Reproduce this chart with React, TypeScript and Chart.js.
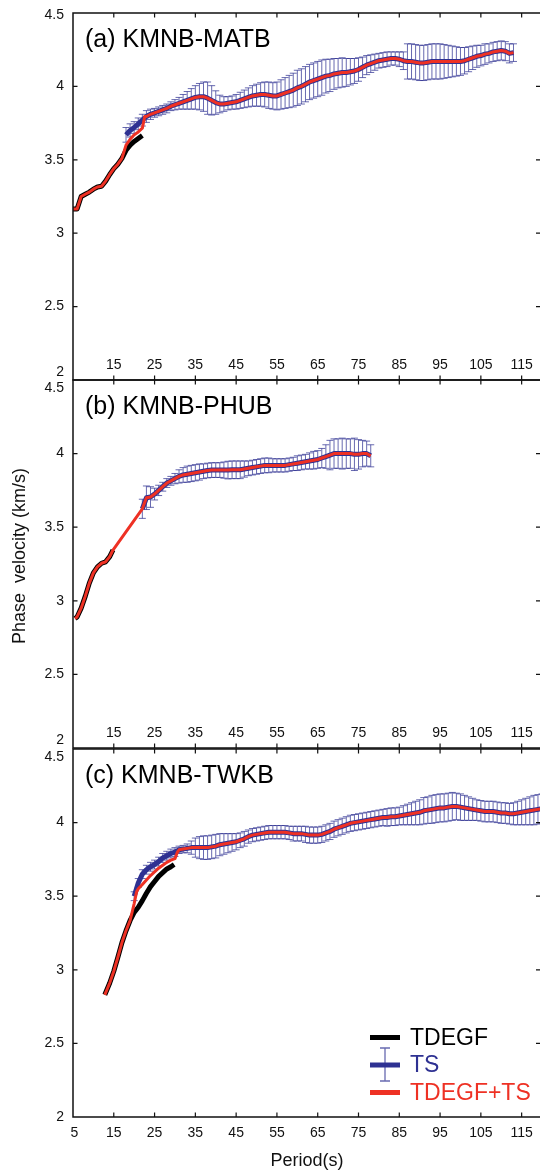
import React, { useEffect, useRef } from "react";
import { Chart, registerables } from "chart.js";
Chart.register(...registerables);

const W = 540;
const H = 1173;

// ---------- axes / labels ----------
const xTicks = [5, 15, 25, 35, 45, 55, 65, 75, 85, 95, 105, 115];
const yTicks = [2, 2.5, 3, 3.5, 4, 4.5];
const yTickLabels = ["2", "2.5", "3", "3.5", "4", "4.5"];
const panelTitles = ["(a) KMNB-MATB", "(b) KMNB-PHUB", "(c) KMNB-TWKB"];
const legendLabels = ["TDEGF", "TS", "TDEGF+TS"];
const xTitle = "Period(s)";
const yTitle = "Phase  velocity (km/s)";

// ---------- panel (a) KMNB-MATB ----------
const aTdegfT = [5, 6, 7, 8, 9, 10, 11, 12, 13, 14, 15, 16, 17, 18, 19, 20, 21, 22];
const aTdegfV = [3.165, 3.165, 3.25, 3.265, 3.28, 3.3, 3.315, 3.32, 3.355, 3.4, 3.44, 3.47, 3.51, 3.565, 3.6, 3.625, 3.645, 3.665];
const aMixT = [18, 19, 20, 21, 22, 22.6];
const aMixV = [3.6, 3.64, 3.67, 3.69, 3.715, 3.795];
const aTsStart = 18;
const aTsV = [
  3.67, 3.7, 3.72, 3.745, 3.77, 3.795, 3.81, 3.82, 3.83, 3.84, // 18-27
  3.85, 3.865, 3.875, 3.885, 3.895, 3.905, 3.915, 3.925, 3.93, 3.93, // 28-37
  3.92, 3.905, 3.89, 3.88, 3.88, 3.885, 3.89, 3.895, 3.905, 3.915, // 38-47
  3.925, 3.935, 3.94, 3.945, 3.945, 3.94, 3.935, 3.935, 3.945, 3.955, // 48-57
  3.965, 3.975, 3.99, 4.0, 4.015, 4.03, 4.04, 4.05, 4.06, 4.07, // 58-67
  4.075, 4.085, 4.09, 4.095, 4.095, 4.1, 4.105, 4.115, 4.13, 4.145, // 68-77
  4.155, 4.165, 4.175, 4.18, 4.185, 4.19, 4.19, 4.185, 4.175, 4.17, // 78-87
  4.17, 4.165, 4.16, 4.16, 4.165, 4.17, 4.17, 4.17, 4.17, 4.17, // 88-97
  4.17, 4.17, 4.17, 4.175, 4.185, 4.195, 4.205, 4.21, 4.22, 4.225, // 98-107
  4.235, 4.24, 4.245, 4.24, 4.225, 4.23, // 108-113
];
const aTsErr = [
  0.05, 0.045, 0.04, 0.04, 0.04, 0.04, 0.035, 0.03, 0.03, 0.03, // 18-27
  0.03, 0.03, 0.035, 0.04, 0.05, 0.06, 0.07, 0.08, 0.09, 0.1, // 28-37
  0.11, 0.1, 0.08, 0.06, 0.05, 0.045, 0.045, 0.05, 0.055, 0.06, // 38-47
  0.065, 0.07, 0.075, 0.08, 0.085, 0.09, 0.09, 0.095, 0.1, 0.105, // 48-57
  0.11, 0.115, 0.12, 0.12, 0.12, 0.12, 0.12, 0.12, 0.12, 0.115, // 58-67
  0.11, 0.105, 0.1, 0.1, 0.095, 0.09, 0.085, 0.08, 0.07, 0.065, // 68-77
  0.06, 0.055, 0.05, 0.05, 0.05, 0.045, 0.045, 0.05, 0.06, 0.12, // 78-87
  0.12, 0.12, 0.12, 0.12, 0.12, 0.12, 0.12, 0.12, 0.115, 0.11, // 88-97
  0.105, 0.1, 0.095, 0.09, 0.085, 0.08, 0.075, 0.07, 0.07, 0.065, // 98-107
  0.065, 0.065, 0.065, 0.065, 0.065, 0.06, // 108-113
];

// ---------- panel (b) KMNB-PHUB ----------
const bTdegfT = [5.5, 6, 7, 8, 9, 10, 11, 12, 13, 14, 14.8];
const bTdegfV = [2.88, 2.89, 2.95, 3.03, 3.12, 3.19, 3.23, 3.255, 3.265, 3.3, 3.345];
const bTsStart = 22;
const bTsV = [
  3.625, 3.7, 3.705, 3.725, 3.75, 3.775, 3.8, 3.815, 3.83, 3.845, // 22-31
  3.855, 3.86, 3.865, 3.87, 3.875, 3.88, 3.885, 3.888, 3.888, 3.888, // 32-41
  3.888, 3.888, 3.89, 3.89, 3.89, 3.895, 3.9, 3.905, 3.91, 3.915, // 42-51
  3.92, 3.92, 3.92, 3.92, 3.92, 3.92, 3.925, 3.93, 3.935, 3.94, // 52-61
  3.945, 3.95, 3.955, 3.96, 3.97, 3.98, 3.99, 4.0, 4.0, 4.0, // 62-71
  4.0, 4.0, 3.995, 3.995, 4.0, 4.0, 3.985, // 72-78
];
const bTsErr = [
  0.065, 0.08, 0.07, 0.04, 0.035, 0.03, 0.03, 0.03, 0.035, 0.045, // 22-31
  0.05, 0.055, 0.055, 0.055, 0.055, 0.05, 0.05, 0.05, 0.05, 0.05, // 32-41
  0.055, 0.06, 0.06, 0.06, 0.06, 0.055, 0.05, 0.05, 0.05, 0.05, // 42-51
  0.05, 0.05, 0.045, 0.045, 0.045, 0.045, 0.045, 0.045, 0.05, 0.05, // 52-61
  0.05, 0.055, 0.06, 0.06, 0.065, 0.08, 0.1, 0.1, 0.1, 0.105, // 62-71
  0.1, 0.1, 0.11, 0.1, 0.09, 0.085, 0.075, // 72-78
];

// ---------- panel (c) KMNB-TWKB ----------
const cTdegfT = [12.8, 14, 15, 16, 17, 18, 19, 20, 21, 22, 23, 24, 25, 26, 27, 28, 29, 29.8];
const cTdegfV = [2.83, 2.91, 2.99, 3.085, 3.185, 3.265, 3.335, 3.39, 3.425, 3.47, 3.52, 3.565, 3.6, 3.635, 3.66, 3.685, 3.7, 3.715];
const cMixT = [20, 20.6, 21, 22, 23, 24, 25, 26, 27, 28, 29, 30, 30.6];
const cMixV = [3.45, 3.53, 3.55, 3.58, 3.61, 3.64, 3.665, 3.69, 3.71, 3.73, 3.745, 3.755, 3.8];
const cTsStart = 20;
const cTsV = [
  3.5, 3.59, 3.65, 3.68, 3.7, 3.715, 3.735, 3.76, 3.775, 3.79, // 20-29
  3.8, 3.815, 3.82, 3.825, 3.83, 3.83, 3.83, 3.83, 3.83, 3.835, // 30-39
  3.84, 3.85, 3.855, 3.86, 3.865, 3.87, 3.88, 3.89, 3.905, 3.915, // 40-49
  3.92, 3.925, 3.93, 3.935, 3.935, 3.935, 3.935, 3.935, 3.93, 3.925, // 50-59
  3.925, 3.925, 3.92, 3.915, 3.915, 3.915, 3.92, 3.93, 3.94, 3.955, // 60-69
  3.965, 3.975, 3.985, 3.995, 4.0, 4.005, 4.01, 4.015, 4.02, 4.025, // 70-79
  4.03, 4.035, 4.035, 4.04, 4.04, 4.045, 4.05, 4.055, 4.06, 4.065, // 80-89
  4.07, 4.08, 4.085, 4.09, 4.095, 4.1, 4.1, 4.105, 4.11, 4.11, // 90-99
  4.105, 4.1, 4.095, 4.09, 4.085, 4.08, 4.075, 4.075, 4.075, 4.07, // 100-109
  4.065, 4.065, 4.06, 4.06, 4.065, 4.07, 4.075, 4.08, 4.085, 4.09, // 110-119
  4.095, // 120
];
const cTsErr = [
  0.03, 0.03, 0.03, 0.03, 0.03, 0.03, 0.03, 0.03, 0.03, 0.03, // 20-29
  0.03, 0.025, 0.025, 0.03, 0.045, 0.065, 0.075, 0.08, 0.08, 0.08, // 30-39
  0.08, 0.075, 0.07, 0.065, 0.06, 0.055, 0.05, 0.05, 0.045, 0.045, // 40-49
  0.045, 0.045, 0.045, 0.045, 0.045, 0.045, 0.045, 0.045, 0.045, 0.05, // 50-59
  0.05, 0.05, 0.055, 0.055, 0.055, 0.055, 0.055, 0.055, 0.055, 0.055, // 60-69
  0.055, 0.055, 0.055, 0.055, 0.055, 0.055, 0.055, 0.055, 0.055, 0.055, // 70-79
  0.055, 0.055, 0.06, 0.06, 0.06, 0.06, 0.065, 0.07, 0.075, 0.08, // 80-89
  0.085, 0.09, 0.09, 0.095, 0.095, 0.095, 0.095, 0.095, 0.095, 0.09, // 90-99
  0.09, 0.085, 0.08, 0.075, 0.07, 0.07, 0.07, 0.07, 0.07, 0.07, // 100-109
  0.07, 0.07, 0.07, 0.075, 0.08, 0.085, 0.09, 0.095, 0.1, 0.1, // 110-119
  0.1, // 120
];

// ---------- styling ----------
const FONT = '"Liberation Sans", Arial, Helvetica, sans-serif';
const RED = "#EE3124";
const BLUE = "#2E3192";
const BAR = "rgba(46,49,146,0.72)";
const X_MIN = 5;
const X_MAX = 119.5;

type Pt = { x: number; y: number };
const pts = (ts: number[], vs: number[]): Pt[] => ts.map((t, i) => ({ x: t, y: vs[i] }));
const seq = (start: number, vs: number[]): Pt[] => vs.map((v, i) => ({ x: start + i, y: v }));

interface Panel {
  key: string;
  top: number;
  bottom: number;
  title: string;
  tdegf: Pt[];
  ts: Pt[];
  err: number[];
  red: Pt[];
  xLabelsInside: boolean;
  shift2: number;
  shift45: number;
  legend: boolean;
  yTitle: boolean;
  xTitle: boolean;
}

const aTs = seq(aTsStart, aTsV);
const bTs = seq(bTsStart, bTsV);
const cTs = seq(cTsStart, cTsV);

const panels: Panel[] = [
  {
    key: "a", top: 13, bottom: 380, title: panelTitles[0],
    tdegf: pts(aTdegfT, aTdegfV), ts: aTs, err: aTsErr,
    red: [...pts(aTdegfT, aTdegfV).filter((p) => p.x <= 17), ...pts(aMixT, aMixV), ...aTs.filter((p) => p.x >= 23)],
    xLabelsInside: true, shift2: -7.5, shift45: 2, legend: false, yTitle: false, xTitle: false,
  },
  {
    key: "b", top: 380, bottom: 748, title: panelTitles[1],
    tdegf: pts(bTdegfT, bTdegfV), ts: bTs, err: bTsErr,
    red: [...pts(bTdegfT, bTdegfV), ...bTs],
    xLabelsInside: true, shift2: -7.5, shift45: 8.5, legend: false, yTitle: true, xTitle: false,
  },
  {
    key: "c", top: 749, bottom: 1117, title: panelTitles[2],
    tdegf: pts(cTdegfT, cTdegfV), ts: cTs, err: cTsErr,
    red: [...pts(cTdegfT, cTdegfV).filter((p) => p.x <= 19), ...pts(cMixT, cMixV), ...cTs.filter((p) => p.x >= 31)],
    xLabelsInside: false, shift2: 0, shift45: 8, legend: true, yTitle: false, xTitle: true,
  },
];

function makePlugin(p: Panel) {
  return {
    id: "decor_" + p.key,
    beforeDatasetsDraw(chart: any) {
      const { ctx, chartArea } = chart;
      const xs = chart.scales.x;
      const ys = chart.scales.y;
      ctx.save();
      ctx.beginPath();
      ctx.rect(chartArea.left, chartArea.top, chartArea.right - chartArea.left, chartArea.bottom - chartArea.top);
      ctx.clip();
      ctx.strokeStyle = BAR;
      ctx.lineWidth = 1;
      p.ts.forEach((pt, i) => {
        const e = p.err[i];
        const x = xs.getPixelForValue(pt.x);
        const y1 = ys.getPixelForValue(pt.y + e);
        const y2 = ys.getPixelForValue(pt.y - e);
        ctx.beginPath();
        ctx.moveTo(x, y1);
        ctx.lineTo(x, y2);
        ctx.moveTo(x - 3.5, y1);
        ctx.lineTo(x + 3.5, y1);
        ctx.moveTo(x - 3.5, y2);
        ctx.lineTo(x + 3.5, y2);
        ctx.stroke();
      });
      ctx.restore();
    },
    afterDatasetsDraw(chart: any) {
      const { ctx, chartArea } = chart;
      const xs = chart.scales.x;
      const ys = chart.scales.y;
      const L = chartArea.left;
      const R = chartArea.right;
      const T = chartArea.top;
      const B = chartArea.bottom;
      ctx.save();
      // frame
      ctx.strokeStyle = "#111";
      ctx.lineWidth = 1.5;
      ctx.beginPath();
      ctx.moveTo(R + 0.8, T);
      ctx.lineTo(L, T);
      ctx.lineTo(L, B);
      ctx.lineTo(R + 0.8, B);
      ctx.stroke();
      // inward ticks
      ctx.lineWidth = 1.2;
      ctx.beginPath();
      xTicks.forEach((v) => {
        if (v === X_MIN) return;
        const x = xs.getPixelForValue(v);
        ctx.moveTo(x, T);
        ctx.lineTo(x, T + 4.5);
        ctx.moveTo(x, B);
        ctx.lineTo(x, B - 4.5);
      });
      yTicks.forEach((v) => {
        if (v === 2 || v === 4.5) return;
        const y = ys.getPixelForValue(v);
        ctx.moveTo(L, y);
        ctx.lineTo(L + 4.5, y);
        ctx.moveTo(R, y);
        ctx.lineTo(R - 4, y);
      });
      ctx.stroke();
      // y tick labels
      ctx.fillStyle = "#111";
      ctx.font = `14px ${FONT}`;
      ctx.textAlign = "right";
      ctx.textBaseline = "middle";
      yTicks.forEach((v, i) => {
        let y = ys.getPixelForValue(v);
        if (v === 2) y += p.shift2;
        if (v === 4.5) y += p.shift45;
        ctx.fillText(yTickLabels[i], L - 9, y);
      });
      // x tick labels
      ctx.textAlign = "center";
      xTicks.forEach((v) => {
        if (p.xLabelsInside && v === X_MIN) return;
        const x = xs.getPixelForValue(v) + (v === X_MIN ? 1.5 : 0);
        const y = p.xLabelsInside ? B - 15 : B + 16;
        ctx.fillText(String(v), x, y);
      });
      // title
      ctx.font = `25px ${FONT}`;
      ctx.textAlign = "left";
      ctx.textBaseline = "alphabetic";
      ctx.fillStyle = "#000";
      ctx.fillText(p.title, 85, T + 33.5);
      // axis titles
      if (p.yTitle) {
        ctx.save();
        ctx.translate(20, 556);
        ctx.rotate(-Math.PI / 2);
        ctx.font = `18px ${FONT}`;
        ctx.textAlign = "center";
        ctx.textBaseline = "middle";
        ctx.fillStyle = "#111";
        ctx.fillText(yTitle, 0, 0);
        ctx.restore();
      }
      if (p.xTitle) {
        ctx.font = `18px ${FONT}`;
        ctx.textAlign = "center";
        ctx.textBaseline = "middle";
        ctx.fillStyle = "#111";
        ctx.fillText(xTitle, 307, 1161);
      }
      // legend
      if (p.legend) {
        const rows = [1037.5, 1065, 1092.5];
        const colors = ["#000", BLUE, RED];
        ctx.font = `23px ${FONT}`;
        ctx.textAlign = "left";
        ctx.textBaseline = "middle";
        rows.forEach((y, i) => {
          ctx.strokeStyle = colors[i];
          ctx.lineWidth = 5;
          ctx.beginPath();
          ctx.moveTo(370, y);
          ctx.lineTo(400, y);
          ctx.stroke();
          if (i === 1) {
            ctx.strokeStyle = BAR;
            ctx.lineWidth = 1.3;
            ctx.beginPath();
            ctx.moveTo(385, y - 17);
            ctx.lineTo(385, y + 16);
            ctx.moveTo(380, y - 17);
            ctx.lineTo(390, y - 17);
            ctx.moveTo(380, y + 16);
            ctx.lineTo(390, y + 16);
            ctx.stroke();
          }
          ctx.fillStyle = colors[i];
          ctx.fillText(legendLabels[i], 410, y + 1);
        });
      }
      ctx.restore();
    },
  };
}

function PanelChart({ p }: { p: Panel }) {
  const ref = useRef<HTMLCanvasElement | null>(null);
  useEffect(() => {
    if (!ref.current) return;
    const chart = new Chart(ref.current, {
      type: "line",
      data: {
        datasets: [
          { label: "TDEGF+TS", data: p.red, borderColor: RED, borderWidth: 3, order: 0 },
          { label: "TDEGF", data: p.tdegf, borderColor: "#000", borderWidth: 5, order: 1 },
          { label: "TS", data: p.ts, borderColor: BLUE, borderWidth: 5, order: 2 },
        ],
      },
      options: {
        responsive: false,
        maintainAspectRatio: false,
        animation: false,
        parsing: false,
        normalized: true,
        layout: { padding: { left: 73, right: 0, top: p.top, bottom: H - p.bottom } },
        elements: {
          point: { radius: 0, hoverRadius: 0 },
          line: { tension: 0, borderJoinStyle: "round", fill: false },
        },
        plugins: { legend: { display: false }, tooltip: { enabled: false } },
        events: [],
        scales: {
          x: { type: "linear", min: X_MIN, max: X_MAX, display: false },
          y: { type: "linear", min: 2, max: 4.5, display: false },
        },
      },
      plugins: [makePlugin(p)],
    } as any);
    return () => chart.destroy();
  }, [p]);
  return (
    <canvas
      ref={ref}
      width={W}
      height={H}
      style={{ position: "absolute", left: 0, top: 0, width: W, height: H }}
    />
  );
}

export default function App() {
  return (
    <div style={{ position: "absolute", left: 0, top: 0, width: W, height: H, background: "#fff" }}>
      {panels.map((p) => (
        <PanelChart key={p.key} p={p} />
      ))}
    </div>
  );
}
